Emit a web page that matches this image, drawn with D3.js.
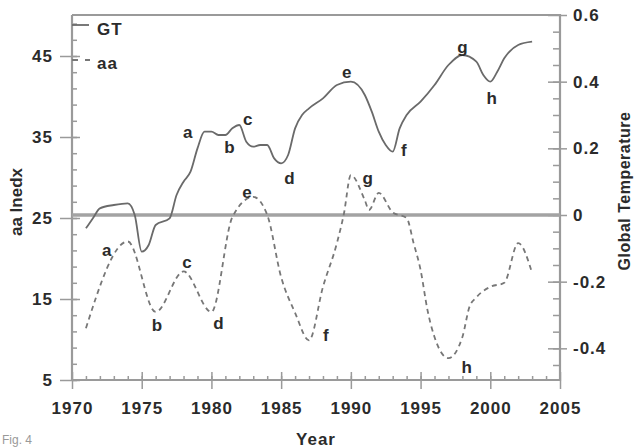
<!DOCTYPE html>
<html>
<head>
<meta charset="utf-8">
<script src="https://cdn.jsdelivr.net/npm/d3@7"></script>
<style>
  body { margin: 0; background: #fff; }
  svg text { font-family: "Liberation Sans", Arial, sans-serif; font-weight: bold; fill: #2b2b2b; }
</style>
</head>
<body>
<svg id="chart" width="634" height="448"></svg>
<script>
// Global temperature anomaly (right axis)
const gtYears = [1971, 1971.5, 1972, 1973, 1974, 1974.5, 1975, 1975.5, 1976, 1977, 1977.5, 1978, 1978.5, 1979, 1979.5, 1980, 1980.5, 1981, 1981.5, 1982, 1982.5, 1983, 1983.5, 1984, 1984.5, 1985, 1985.5, 1986, 1986.5, 1987, 1988, 1989, 1990, 1991, 1991.5, 1992, 1992.5, 1993, 1993.5, 1994, 1995, 1996, 1997, 1998, 1999, 1999.5, 2000, 2000.5, 2001, 2002, 2003];
const gtValues = [-0.04, -0.01, 0.02, 0.03, 0.035, 0.0, -0.11, -0.09, -0.03, -0.01, 0.06, 0.1, 0.13, 0.2, 0.25, 0.25, 0.24, 0.24, 0.26, 0.27, 0.22, 0.205, 0.21, 0.21, 0.17, 0.155, 0.18, 0.26, 0.3, 0.32, 0.35, 0.39, 0.40, 0.36, 0.31, 0.25, 0.21, 0.19, 0.26, 0.3, 0.34, 0.39, 0.45, 0.48, 0.46, 0.42, 0.40, 0.43, 0.47, 0.51, 0.52];

// aa index (left axis)
const aaYears = [1971, 1974, 1976, 1978, 1980, 1981.5, 1983, 1984, 1985, 1986, 1987, 1988, 1989, 1989.5, 1990, 1991, 1991.3, 1992, 1993, 1994, 1994.5, 1995, 1995.5, 1996, 1997, 1998, 1998.5, 1999, 2000, 2001, 2002, 2003];
const aaValues = [11.4, 22.1, 13.4, 18.4, 13.4, 25.1, 27.6, 25.4, 17.7, 13.3, 9.9, 16.5, 21.9, 25.5, 30.3, 27.2, 26.0, 28.1, 25.7, 25.0, 21.9, 18.6, 13.6, 10.3, 7.7, 10.3, 14.0, 15.2, 16.5, 17.0, 21.9, 18.2];

// letter annotations: [letter, year, value at the text baseline]
const gtNotes = [["a", 1978.3, 0.231], ["b", 1981.3, 0.186], ["c", 1982.6, 0.27], ["d", 1985.6, 0.093], ["e", 1989.7, 0.411], ["f", 1993.8, 0.177], ["g", 1998.0, 0.486], ["h", 2000.1, 0.333]];
const aaNotes = [["a", 1972.5, 20.3], ["b", 1976.1, 11.05], ["c", 1978.25, 18.8], ["d", 1980.5, 11.3], ["e", 1982.55, 27.5], ["f", 1988.2, 9.8], ["g", 1991.2, 29.2], ["h", 1998.3, 5.9]];

// tick values
const xMajor = [1970, 1975, 1980, 1985, 1990, 1995, 2000, 2005];
const leftMajor = [5, 15, 25, 35, 45];
const rightMajor = [-0.4, -0.2, 0, 0.2, 0.4, 0.6];

const svg = d3.select("#chart");
const L = 72, R = 560, T = 15, B = 380;
const axisColor = "#9a9a9a";

// Scales
const x = d3.scaleLinear().domain([1970, 2005]).range([L, R]);
const yL = d3.scaleLinear().domain([5, 50]).range([B, T + 0.5]);
const yR = d3.scaleLinear().domain([-0.495, 0.6]).range([B, T]);

// helper to style an axis group
function styleAxis(g) {
  g.select(".domain").remove();
  g.selectAll("line").attr("stroke", axisColor).attr("stroke-width", 1.5);
  g.selectAll("text").attr("font-size", 17).attr("letter-spacing", 1);
}

// Minor ticks (inward)
svg.append("g").attr("transform", `translate(${L},0)`)
  .call(d3.axisRight(yL).tickValues(d3.range(5, 50, 2)).tickSize(5).tickFormat(""))
  .call(styleAxis);
svg.append("g").attr("transform", `translate(${R - 1},0)`)
  .call(d3.axisLeft(yR).tickValues(d3.range(-0.45, 0.6, 0.05)).tickSize(6).tickFormat(""))
  .call(styleAxis);
svg.append("g").attr("transform", `translate(0,${B})`)
  .call(d3.axisTop(x).tickValues(d3.range(1971, 2005)).tickSize(4).tickFormat(""))
  .call(styleAxis);

// Major ticks crossing the axes, with labels
svg.append("g").attr("transform", `translate(${L + 8},0)`)
  .call(d3.axisLeft(yL).tickValues(leftMajor).tickSize(20).tickPadding(7))
  .call(styleAxis);
svg.append("g").attr("transform", `translate(${R - 12},0)`)
  .call(d3.axisRight(yR).tickValues(rightMajor).tickSize(19).tickPadding(6)
    .tickFormat(d => d === 0 ? "0" : d.toFixed(1)))
  .call(styleAxis);
svg.append("g").attr("transform", `translate(0,${B - 8})`)
  .call(d3.axisBottom(x).tickValues(xMajor).tickSize(17).tickPadding(13).tickFormat(d3.format("")))
  .call(styleAxis);

// Frame: left, right, bottom axis lines and top border
svg.append("path")
  .attr("d", `M${L},${T}V${B}H${R}V${T}H${L}`)
  .attr("fill", "none").attr("stroke", axisColor).attr("stroke-width", 2.2);

// Zero line of the temperature
svg.append("line")
  .attr("x1", L).attr("x2", R).attr("y1", yR(0)).attr("y2", yR(0))
  .attr("stroke", "#a3a3a3").attr("stroke-width", 3.5);

// Curves
const gtLine = d3.line().x(d => x(d[0])).y(d => yR(d[1])).curve(d3.curveMonotoneX);
const aaLine = d3.line().x(d => x(d[0])).y(d => yL(d[1])).curve(d3.curveMonotoneX);

svg.append("path")
  .datum(d3.zip(gtYears, gtValues))
  .attr("d", gtLine)
  .attr("fill", "none").attr("stroke", "#6a6a6a").attr("stroke-width", 1.8);

svg.append("path")
  .datum(d3.zip(aaYears, aaValues))
  .attr("d", aaLine)
  .attr("fill", "none").attr("stroke", "#777").attr("stroke-width", 1.8)
  .attr("stroke-dasharray", "5,4");

// Letter labels
svg.append("g").selectAll("text").data(gtNotes).join("text")
  .attr("x", d => x(d[1])).attr("y", d => yR(d[2]))
  .attr("text-anchor", "middle").attr("font-size", 17).text(d => d[0]);
svg.append("g").selectAll("text").data(aaNotes).join("text")
  .attr("x", d => x(d[1])).attr("y", d => yL(d[2]))
  .attr("text-anchor", "middle").attr("font-size", 17).text(d => d[0]);

// Legend
const legend = svg.append("g");
legend.append("line").attr("x1", L).attr("x2", 89).attr("y1", 25).attr("y2", 25)
  .attr("stroke", "#6a6a6a").attr("stroke-width", 1.8);
legend.append("text").attr("x", 97).attr("y", 35).attr("font-size", 17).attr("letter-spacing", 1).text("GT");
legend.append("line").attr("x1", L).attr("x2", 90).attr("y1", 60).attr("y2", 60)
  .attr("stroke", "#777").attr("stroke-width", 1.8).attr("stroke-dasharray", "6,7");
legend.append("text").attr("x", 97).attr("y", 69).attr("font-size", 17).attr("letter-spacing", 1).text("aa");

// Axis titles
svg.append("text").attr("transform", "translate(22,202) rotate(-90)")
  .attr("text-anchor", "middle").attr("font-size", 17).text("aa Inedx");
svg.append("text").attr("transform", "translate(630,191) rotate(-90)")
  .attr("text-anchor", "middle").attr("font-size", 16).attr("letter-spacing", 0.5).text("Global Temperature");
svg.append("text").attr("x", (L + R) / 2).attr("y", 445)
  .attr("text-anchor", "middle").attr("font-size", 17).attr("letter-spacing", 1).text("Year");
svg.append("text").attr("x", 2).attr("y", 444)
  .attr("font-size", 12).style("font-weight", "normal").style("fill", "#999").text("Fig. 4");
</script>
</body>
</html>
